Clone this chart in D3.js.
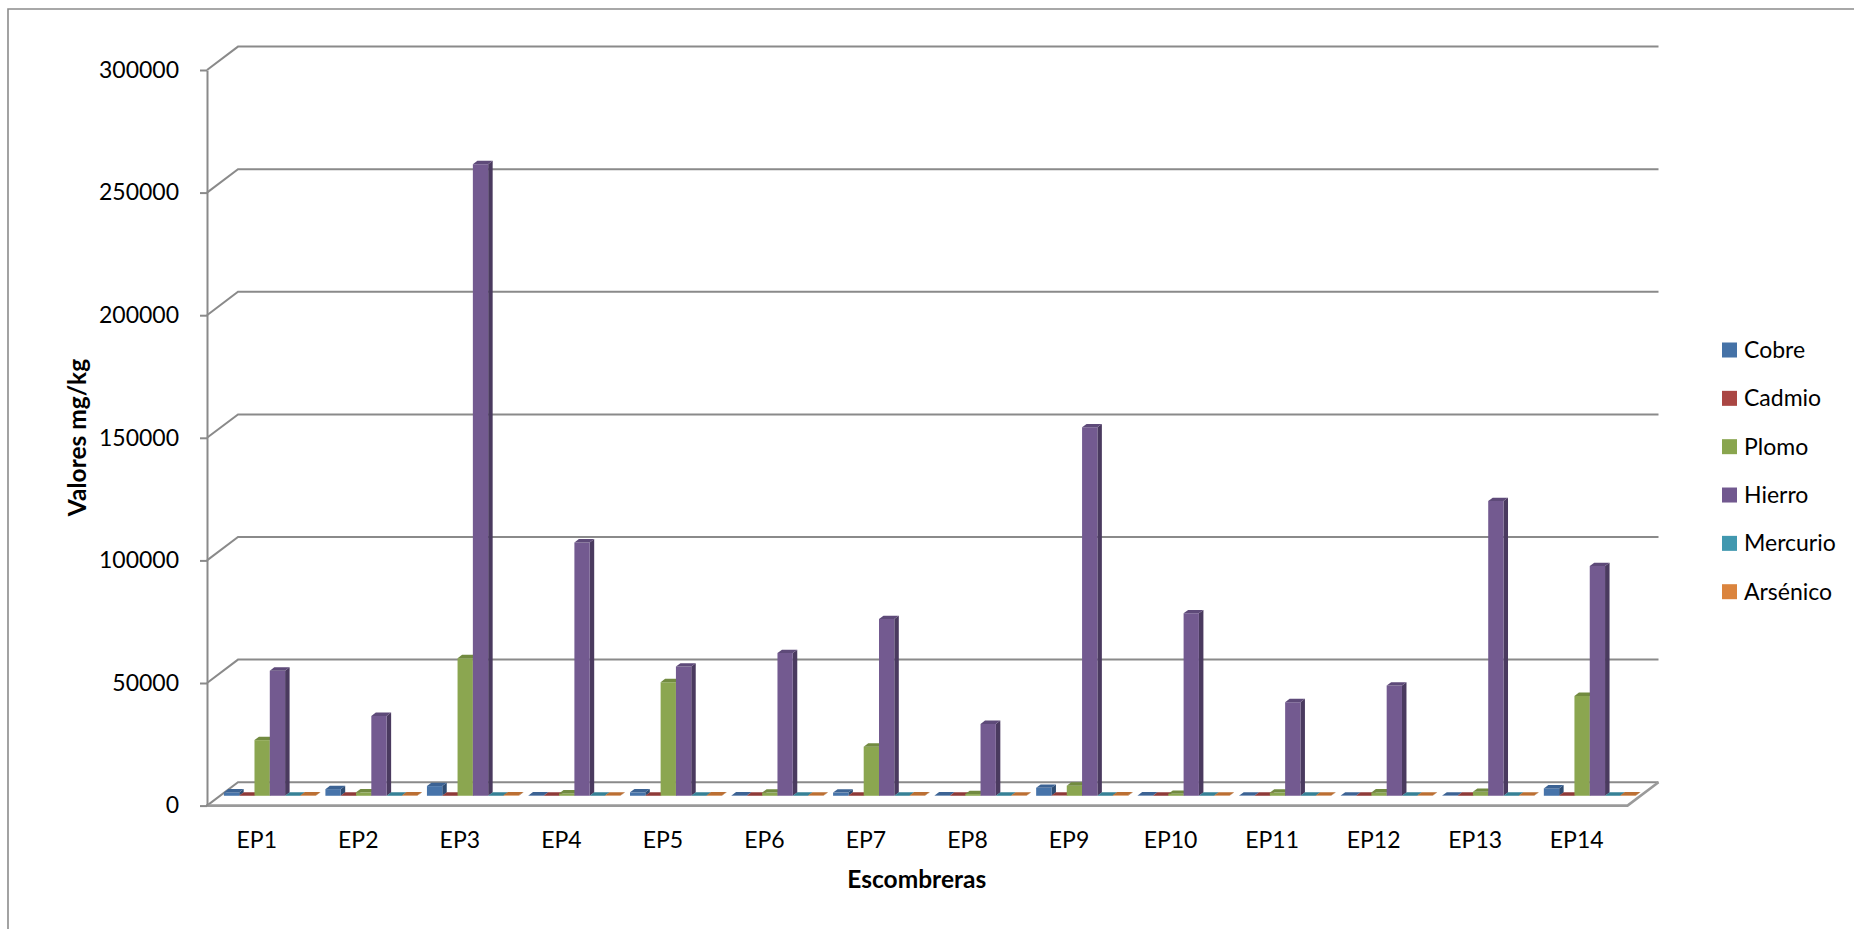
<!DOCTYPE html>
<html>
<head>
<meta charset="utf-8">
<script src="https://cdn.jsdelivr.net/npm/d3@7"></script>
<style>
  html, body { margin: 0; padding: 0; background: #ffffff; }
  svg { display: block; }
  text { font-family: Lato, "Open Sans", "DejaVu Sans", sans-serif; fill: #000; }
</style>
</head>
<body>
<svg id="chart" width="1854" height="929"></svg>
<script>
// Heavy-metal concentrations (mg/kg) per spoil heap
const categories = ["EP1", "EP2", "EP3", "EP4", "EP5", "EP6", "EP7", "EP8", "EP9", "EP10", "EP11", "EP12", "EP13", "EP14"];
const seriesNames = ["Cobre", "Cadmio", "Plomo", "Hierro", "Mercurio", "Arsénico"];

const cobre    = [1360, 2700, 3950, 150, 1400, 150, 1300, 120, 3250, 120, 100, 100, 100, 3000];
const cadmio   = [30, 40, 50, 20, 30, 20, 30, 20, 60, 20, 20, 20, 20, 40];
const plomo    = [22700, 1400, 56100, 950, 46300, 1300, 20000, 700, 4100, 800, 1300, 1350, 1600, 40700];
const hierro   = [51000, 32550, 257600, 103300, 52700, 58200, 72050, 29300, 150250, 74400, 38150, 44950, 120200, 93700];
const mercurio = [5, 5, 10, 5, 5, 5, 5, 5, 10, 5, 5, 5, 5, 5];
const arsenico = [150, 120, 200, 100, 150, 100, 120, 100, 200, 100, 100, 100, 100, 150];

const yTicks = [0, 50000, 100000, 150000, 200000, 250000, 300000];

const xTitle = "Escombreras";
const yTitle = "Valores mg/kg";

// Face colours per series: front, side, top, legend key
const palette = {
  "Cobre":    { front: "#4774aa", side: "#2e4c72", top: "#3c6394", key: "#4572a7" },
  "Cadmio":   { front: "#aa4643", side: "#702e2c", top: "#8f3a38", key: "#aa4643" },
  "Plomo":    { front: "#8ba650", side: "#5d7035", top: "#728b40", key: "#89a54e" },
  "Hierro":   { front: "#735a90", side: "#4a3a5f", top: "#5e4a79", key: "#71588f" },
  "Mercurio": { front: "#4198af", side: "#2a6474", top: "#368196", key: "#4198af" },
  "Arsénico": { front: "#db843d", side: "#935828", top: "#bb6f33", key: "#db843d" }
};

const seriesValues = [cobre, cadmio, plomo, hierro, mercurio, arsenico];

// ---- layout of the oblique 3-D plot box ----
const frontX0 = 206, frontX1 = 1627.5;     // front plane, left/right
const depthDX = 31, depthDY = -23.4;        // offset from front plane to back wall
const barF0 = 0.42, barF1 = 0.565;          // bar depth slab (fraction of box depth)
const gridColor = "#8a8a8a";

const svg = d3.select("#chart");

const x = d3.scaleBand()
  .domain(categories)
  .range([frontX0, frontX1])
  .paddingInner(0.0955)
  .paddingOuter(0.0478);

const xs = d3.scaleBand()
  .domain(seriesNames)
  .range([0, x.bandwidth()]);

const y = d3.scaleLinear()
  .domain([0, 300000])
  .range([805.6, 70]);

const proj = (px, py, f) => [px + f * depthDX, py + f * depthDY];

// outer chart-area border (top and left edges visible)
svg.append("path")
  .attr("d", "M8,929 L8,9 L1854,9")
  .attr("fill", "none")
  .attr("stroke", "#8c8c8c")
  .attr("stroke-width", 1.6);

// ---- walls: gridlines on side wall + back wall ----
const axisX = frontX0 + 1;
const grid = svg.append("g").attr("class", "grid");
yTicks.forEach(t => {
  const yf = y(t);
  const [bx, by] = proj(axisX, yf, 1);
  grid.append("path")
    .attr("d", `M${axisX},${yf} L${bx},${by} L${frontX1 + depthDX},${by}`)
    .attr("fill", "none")
    .attr("stroke", gridColor)
    .attr("stroke-width", 2);
});

// floor outline (front and right edges)
const floorY = y(0);
svg.append("path")
  .attr("d", `M${frontX0},${floorY} L${frontX1},${floorY} L${frontX1 + depthDX},${floorY + depthDY}`)
  .attr("fill", "none")
  .attr("stroke", "#9a9a9a")
  .attr("stroke-width", 2.6);

// ---- value axis ----
const yAxis = d3.axisLeft(y)
  .tickValues(yTicks)
  .tickFormat(d3.format("d"))
  .tickSize(7)
  .tickSizeOuter(0)
  .tickPadding(21);

const yAxisG = svg.append("g")
  .attr("transform", `translate(${axisX},0)`)
  .call(yAxis);
yAxisG.select(".domain").attr("stroke", gridColor).attr("stroke-width", 2);
yAxisG.selectAll(".tick line").attr("stroke", gridColor).attr("stroke-width", 2);
yAxisG.selectAll(".tick text")
  .attr("font-size", 23)
  .attr("font-family", "Lato, 'Open Sans', sans-serif")
  .attr("fill", "#000");

// ---- 3-D columns ----
const bars = svg.append("g").attr("class", "bars");
categories.forEach((cat, ci) => {
  seriesNames.forEach((name, si) => {
    const v = seriesValues[si][ci];
    const col = palette[name];
    const x0 = x(cat) + xs(name);
    const x1 = x0 + xs.bandwidth();
    const yt = y(v), yb = y(0);
    const p = (px, py, f) => proj(px, py, f).join(",");
    const g = bars.append("g");
    // right side face
    g.append("polygon")
      .attr("points", [p(x1, yt, barF0), p(x1, yt, barF1), p(x1, yb, barF1), p(x1, yb, barF0)].join(" "))
      .attr("fill", col.side);
    // front face
    g.append("polygon")
      .attr("points", [p(x0, yt, barF0), p(x1, yt, barF0), p(x1, yb, barF0), p(x0, yb, barF0)].join(" "))
      .attr("fill", col.front);
    // top face
    g.append("polygon")
      .attr("points", [p(x0, yt, barF0), p(x1, yt, barF0), p(x1, yt, barF1), p(x0, yt, barF1)].join(" "))
      .attr("fill", col.top);
  });
});

// ---- category labels ----
svg.append("g").selectAll("text")
  .data(categories)
  .join("text")
  .attr("x", d => x(d) + x.bandwidth() / 2)
  .attr("y", 847.5)
  .attr("text-anchor", "middle")
  .attr("font-size", 23)
  .text(d => d);

// ---- axis titles ----
svg.append("text")
  .attr("x", (frontX0 + frontX1) / 2)
  .attr("y", 888)
  .attr("text-anchor", "middle")
  .attr("font-size", 24.5)
  .attr("font-weight", "bold")
  .text(xTitle);

svg.append("text")
  .attr("transform", "translate(86,437.5) rotate(-90)")
  .attr("text-anchor", "middle")
  .attr("font-size", 24.5)
  .attr("font-weight", "bold")
  .text(yTitle);

// ---- legend ----
const legendY = d3.scalePoint()
  .domain(seriesNames)
  .range([350, 591.7]);

const legend = svg.append("g").selectAll("g")
  .data(seriesNames)
  .join("g")
  .attr("transform", d => `translate(1722,${legendY(d)})`);

legend.append("rect")
  .attr("x", 0)
  .attr("y", -7.5)
  .attr("width", 15)
  .attr("height", 15)
  .attr("fill", d => palette[d].key);

legend.append("text")
  .attr("x", 22)
  .attr("y", 0)
  .attr("dy", "0.35em")
  .attr("font-size", 23)
  .text(d => d);
</script>
</body>
</html>
